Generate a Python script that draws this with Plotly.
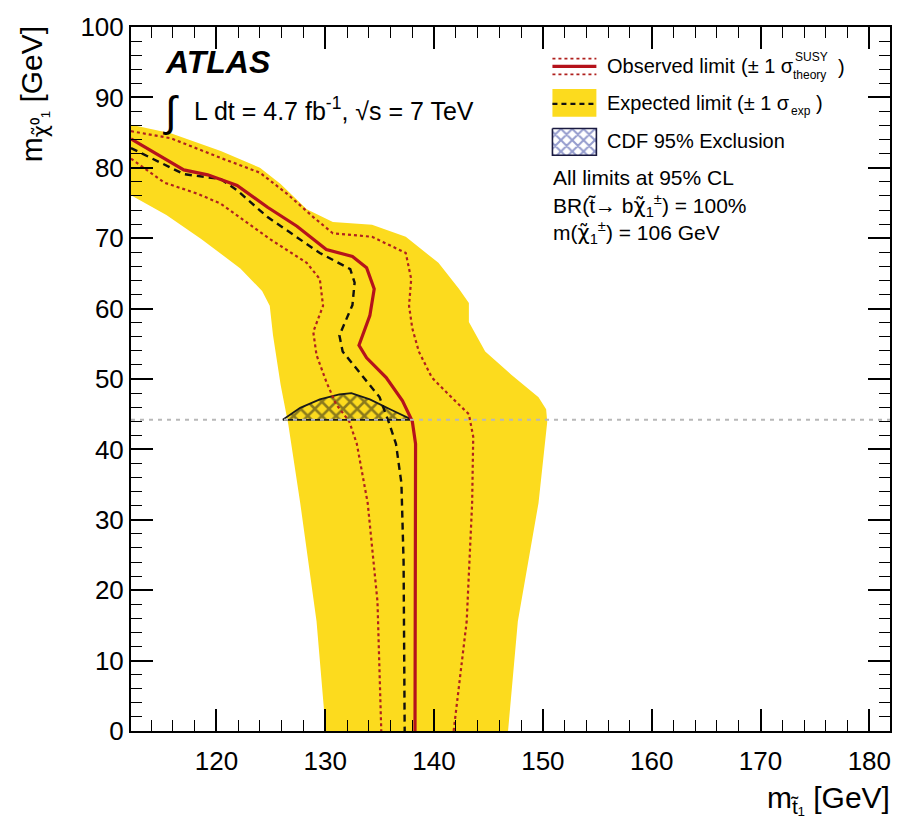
import plotly.graph_objects as go

# ---- axis extents --------------------------------------------------------
X_RANGE = [112.15, 181.9]
Y_RANGE = [0, 100]

# ---- expected limit +/-1 sigma band (outer edge and inner edge) ----------
band_outer_x = [112.15, 115.8, 120.4, 124.0, 125.9, 128.3, 130.7, 134.3, 137.4, 140.4,
                142.3, 143.2, 143.2, 144.7, 147.1, 149.6, 150.3, 150.4, 149.6, 147.7, 146.8]
band_outer_y = [86.1, 84.9, 82.4, 80.0, 77.7, 74.1, 72.3, 71.9, 70.2, 66.5,
                62.8, 60.8, 58.1, 53.9, 50.6, 47.4, 45.7, 43.9, 32.4, 15.6, 0.0]
band_inner_x = [112.15, 115.4, 118.6, 122.2, 124.2, 124.9, 125.2, 125.9, 126.6, 127.7, 129.2, 130.05]
band_inner_y = [76.1, 73.3, 69.9, 65.7, 62.5, 60.4, 56.2, 49.2, 43.6, 32.4, 15.6, 0.0]

# ---- observed limit and its theory variations ----------------------------
obs_x = [112.15, 117.0, 119.2, 121.9, 124.7, 127.4, 130.1, 132.5, 133.8, 134.5, 134.1,
         133.1, 133.8, 135.6, 137.1, 138.0, 138.3, 138.3, 138.25]
obs_y = [84.1, 79.7, 79.0, 77.5, 74.4, 71.7, 68.4, 67.4, 65.8, 62.8, 59.0,
         54.8, 53.0, 50.2, 46.9, 44.0, 40.8, 35.2, 0.0]

obs_up_x = [112.15, 115.8, 120.4, 124.0, 126.5, 128.9, 130.7, 134.3, 137.4, 137.9,
            137.7, 138.0, 138.6, 139.8, 141.6, 143.2, 143.6, 143.5, 143.0, 141.8]
obs_up_y = [85.2, 84.2, 81.4, 79.3, 76.3, 73.0, 70.7, 70.2, 67.9, 64.2,
            60.4, 57.2, 53.9, 50.2, 47.4, 45.0, 41.8, 32.4, 15.6, 0.0]

obs_dn_x = [112.15, 115.2, 118.3, 120.4, 125.0, 128.3, 129.5, 129.8, 128.9, 129.2,
            130.1, 131.0, 132.2, 132.9, 133.9, 134.8, 135.15]
obs_dn_y = [81.3, 77.9, 76.3, 74.9, 69.8, 66.5, 64.2, 60.4, 56.7, 53.4,
            49.6, 46.4, 44.0, 40.8, 32.4, 18.4, 0.0]

# ---- expected limit ------------------------------------------------------
exp_x = [112.15, 117.0, 120.4, 121.9, 124.7, 129.5, 132.3, 132.7, 132.5, 131.3, 131.6,
         133.1, 135.0, 135.9, 136.5, 137.0, 137.2, 137.3]
exp_y = [82.8, 79.1, 78.4, 76.8, 73.0, 67.9, 65.6, 63.7, 60.5, 56.2, 53.9,
         51.1, 47.4, 43.6, 40.8, 35.2, 24.0, 0.0]

# ---- CDF 95% exclusion region --------------------------------------------
cdf_x = [126.1, 127.7, 129.5, 131.3, 132.4, 134.1, 136.1, 138.0, 126.1]
cdf_y = [44.2, 45.9, 47.1, 47.8, 48.0, 47.1, 45.6, 44.2, 44.2]
CDF_LEVEL = 44.2

# ---- style ---------------------------------------------------------------
FONT = "Liberation Sans, Arial, Helvetica, sans-serif"
YELLOW = "#FCDB1E"
RED = "#B5121B"
DOT_RED = "#B0201E"
HATCH_BLUE = "#2B3A9C"
CHI = '<span style="font-family:DejaVu Sans">χ̃</span>'

# plot-area geometry in page pixels
W, H = 904, 829
L, R, T, B = 131, 13, 17, 98
PW, PH = W - L - R, H - T - B


def px(xp):
    return (xp - L) / PW


def py(yp):
    return 1 - (yp - T) / PH


fig = go.Figure()

# expected band as a closed polygon
fig.add_trace(go.Scatter(
    x=band_outer_x + band_inner_x[::-1],
    y=band_outer_y + band_inner_y[::-1],
    fill="toself", fillcolor=YELLOW, mode="lines", line=dict(width=0),
    hoverinfo="skip", showlegend=False))

# CDF excluded region (cross-hatched)
fig.add_trace(go.Scatter(
    x=cdf_x, y=cdf_y, fill="toself", mode="lines",
    line=dict(color="#1a1a1a", width=1.8),
    fillcolor="rgba(0,0,0,0)",
    fillpattern=dict(shape="x", fgcolor="#1a1a1a", bgcolor="rgba(0,0,0,0)",
                     size=10, solidity=0.45),
    hoverinfo="skip", showlegend=False))

# theory variations of the observed limit
for xs, ys in ((obs_up_x, obs_up_y), (obs_dn_x, obs_dn_y)):
    fig.add_trace(go.Scatter(x=xs, y=ys, mode="lines",
                             line=dict(color=DOT_RED, width=2.2, dash="dot"),
                             hoverinfo="skip", showlegend=False))

# expected limit
fig.add_trace(go.Scatter(x=exp_x, y=exp_y, mode="lines",
                         line=dict(color="#111111", width=2.4, dash="7px,5px"),
                         hoverinfo="skip", showlegend=False))

# observed limit
fig.add_trace(go.Scatter(x=obs_x, y=obs_y, mode="lines",
                         line=dict(color=RED, width=3.2),
                         hoverinfo="skip", showlegend=False))

# ---- legend drawn on an overlay axis in plot-area fractions ---------------
lx0, lx1 = px(553), px(597)


def leg_line(yp, color, width, dash):
    fig.add_trace(go.Scatter(x=[lx0, lx1], y=[py(yp), py(yp)], mode="lines",
                             line=dict(color=color, width=width, dash=dash),
                             xaxis="x2", yaxis="y2", hoverinfo="skip", showlegend=False))


def leg_box(y_top, y_bot, fill, pattern=None, outline=None):
    xs = [lx0, lx1, lx1, lx0, lx0]
    ys = [py(y_top), py(y_top), py(y_bot), py(y_bot), py(y_top)]
    kw = dict(x=xs, y=ys, fill="toself", mode="lines", xaxis="x2", yaxis="y2",
              hoverinfo="skip", showlegend=False, fillcolor=fill)
    kw["line"] = dict(color=outline or fill, width=1.6 if outline else 0)
    if pattern:
        kw["fillpattern"] = pattern
    fig.add_trace(go.Scatter(**kw))


leg_line(49, DOT_RED, 1.8, "dot")
leg_line(65, DOT_RED, 1.8, "dot")
leg_line(57, RED, 3.2, "solid")
leg_box(80, 108, YELLOW)
leg_line(95, "#111111", 2.4, "5px,4px")
leg_box(120, 147, "white",
        pattern=dict(shape="x", fgcolor=HATCH_BLUE, bgcolor="white", size=8, solidity=0.45),
        outline="#1a1a40")

annotations = []


def ann(text, xp, yp, size, xanchor="left", yanchor="middle", **kw):
    annotations.append(dict(text=text, x=px(xp), y=py(yp), xref="paper", yref="paper",
                            xanchor=xanchor, yanchor=yanchor, showarrow=False,
                            borderpad=0,
                            font=dict(family=kw.pop("family", FONT), size=size,
                                      color=kw.pop("color", "black")), **kw))


# legend texts
ann("Observed limit", 607, 57, 20)
ann("(± 1 σ", 741, 57, 20)
ann("SUSY", 795, 47, 12)
ann("theory", 793, 66, 12)
ann(")", 838, 58, 20)
ann("Expected limit", 607, 94, 20)
ann("(± 1 σ", 737, 94, 20)
ann("exp", 791, 102, 12)
ann(")", 816, 94, 20)
ann("CDF 95% Exclusion", 607, 133, 20)
ann("All limits at 95% CL", 553, 170, 21)
ann("BR(t̃→ b" + CHI + "<sub>1</sub><sup>±</sup>) = 100%", 553, 198, 21)
ann("m(" + CHI + "<sub>1</sub><sup>±</sup>) = 106 GeV", 553, 225, 21)

# experiment label and luminosity
ann("<b><i>ATLAS</i></b>", 164, 52, 32)
ann("∫", 162, 103, 42)
ann("L dt = 4.7 fb<sup>-1</sup>, √s = 7 TeV", 193, 100, 25)

# axis titles
ann("m<sub>t̃₁</sub> [GeV]", 892, 800, 30, xanchor="right")
annotations.append(dict(text="m<sub>" + CHI + "⁰₁</sub> [GeV]", x=px(34), y=py(14),
                        xref="paper", yref="paper", xanchor="center", yanchor="top",
                        textangle=-90, showarrow=False,
                        font=dict(family=FONT, size=30, color="black")))

axis_common = dict(
    showgrid=False, zeroline=False, showline=True, linecolor="black", linewidth=2,
    mirror="allticks", ticks="inside", ticklen=22, tickwidth=1.6, tickcolor="black",
    tickfont=dict(family=FONT, size=26, color="black"),
)

fig.update_layout(
    width=W, height=H, margin=dict(l=L, r=R, t=T, b=B),
    paper_bgcolor="white", plot_bgcolor="white",
    showlegend=False,
    xaxis=dict(range=X_RANGE, tick0=120, dtick=10, ticklabelstandoff=6,
               minor=dict(dtick=2, tick0=120, ticks="inside", ticklen=11,
                          tickwidth=1.4, tickcolor="black", showgrid=False),
               **axis_common),
    yaxis=dict(range=Y_RANGE, tick0=0, dtick=10,
               minor=dict(dtick=2, tick0=0, ticks="inside", ticklen=11,
                          tickwidth=1.4, tickcolor="black", showgrid=False),
               **axis_common),
    xaxis2=dict(range=[0, 1], overlaying="x", visible=False, fixedrange=True),
    yaxis2=dict(range=[0, 1], overlaying="y", visible=False, fixedrange=True),
    annotations=annotations,
    shapes=[dict(type="line", xref="paper", yref="y", x0=0, x1=1,
                 y0=CDF_LEVEL, y1=CDF_LEVEL, layer="above",
                 line=dict(color="#B8B8B8", width=2, dash="4px,5px"))],
)

fig.write_html("out.html")
